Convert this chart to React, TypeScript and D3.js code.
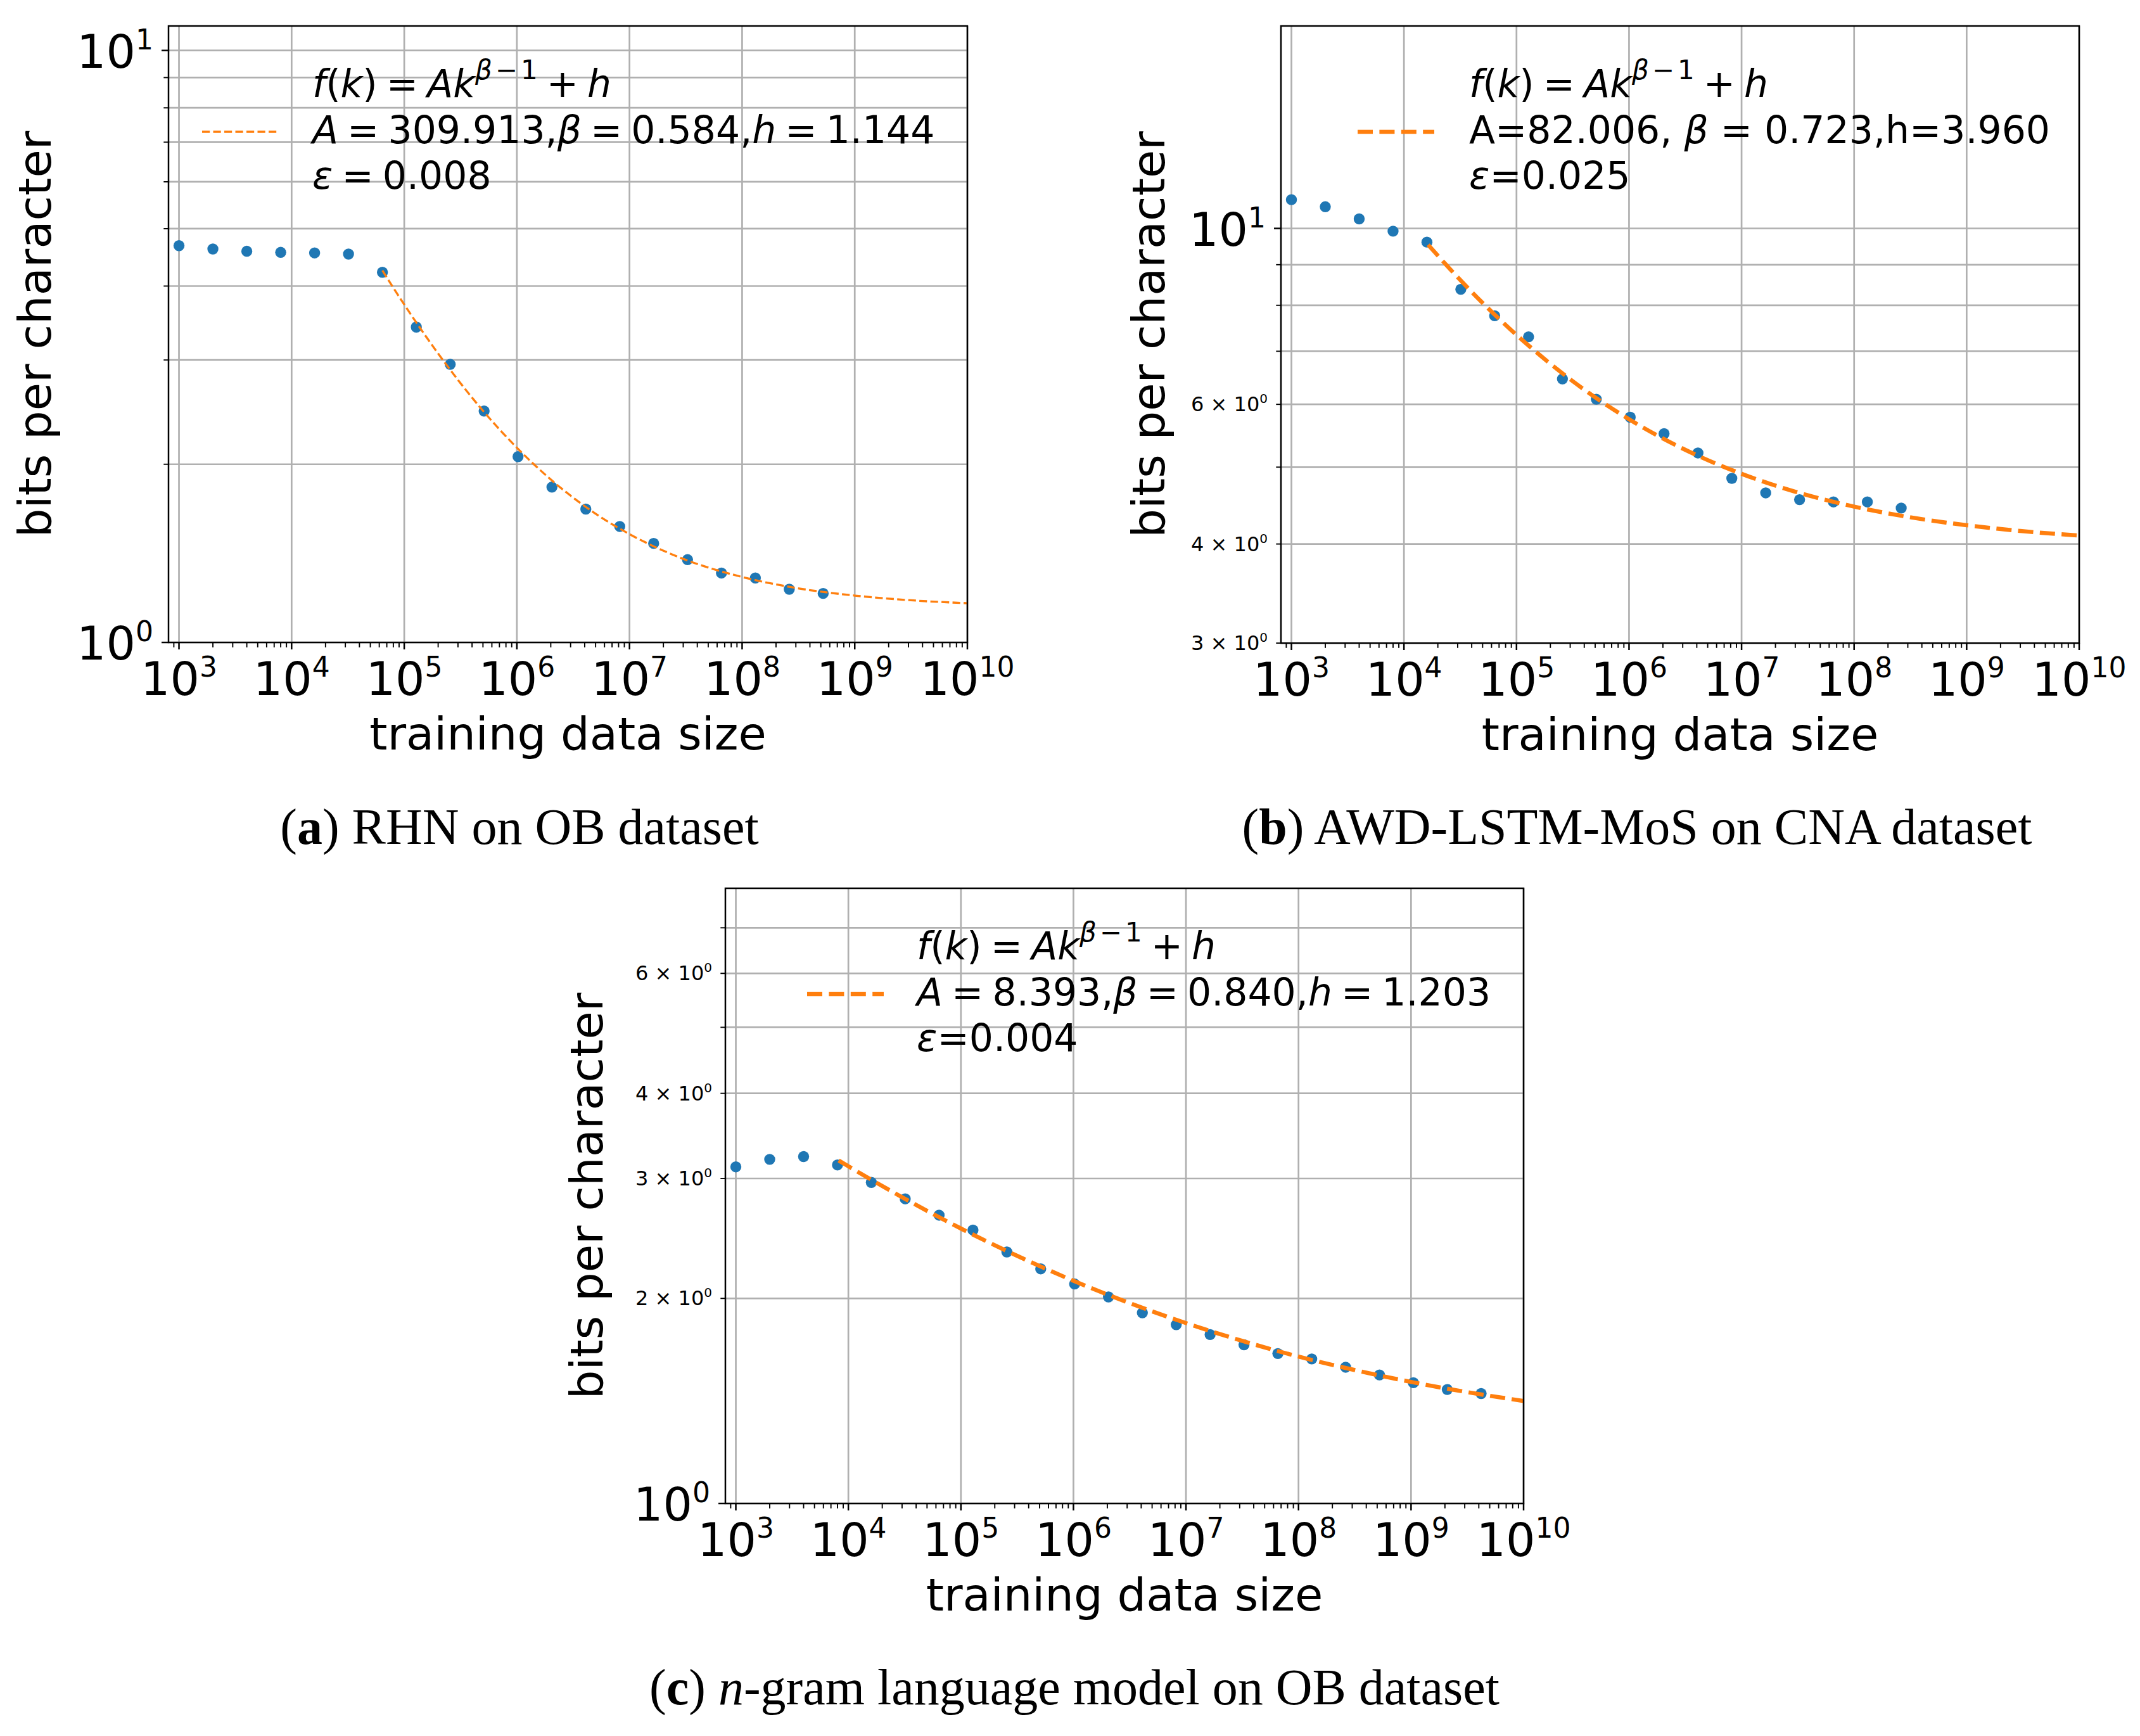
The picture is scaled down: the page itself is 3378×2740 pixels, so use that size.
import React from 'react';
import * as d3 from 'd3';

const W = 3378;
const H = 2740;

// ---------- data ----------
const sizesA = [1e3, 2e3, 4e3, 8e3, 16e3, 32e3, 64e3, 128e3, 256e3, 512e3, 1.024e6, 2.048e6, 4.096e6, 8.192e6, 1.6384e7, 3.2768e7, 6.5536e7, 1.31072e8, 2.62144e8, 5.24288e8];
const bpcA = [4.68, 4.62, 4.58, 4.56, 4.55, 4.53, 4.22, 3.41, 2.95, 2.46, 2.06, 1.83, 1.68, 1.57, 1.47, 1.38, 1.31, 1.285, 1.23, 1.21];
const fitSizesA = [6.4e4, 1e5, 1.5e5, 2e5, 3e5, 5e5, 1e6, 2e6, 3e6, 5e6, 1e7, 3e7, 1e8, 3e8, 1e9, 3e9, 1e10];
const fitBpcA = [4.249, 3.722, 3.322, 3.076, 2.776, 2.463, 2.133, 1.885, 1.77, 1.65, 1.524, 1.384, 1.29, 1.236, 1.2, 1.179, 1.165];

const sizesB = [1e3, 2e3, 4e3, 8e3, 16e3, 32e3, 64e3, 128e3, 256e3, 512e3, 1.024e6, 2.048e6, 4.096e6, 8.192e6, 1.6384e7, 3.2768e7, 6.5536e7, 1.31072e8, 2.62144e8];
const bpcB = [10.87, 10.65, 10.28, 9.92, 9.61, 8.38, 7.76, 7.3, 6.46, 6.09, 5.78, 5.51, 5.21, 4.84, 4.64, 4.55, 4.52, 4.52, 4.44];
const fitSizesB = [16384, 3e4, 5e4, 1e5, 3e5, 1e6, 3e6, 1e7, 3e7, 1e8, 3e8, 1e9, 3e9, 1e10];
const fitBpcB = [9.537, 8.678, 8.055, 7.34, 6.453, 5.746, 5.277, 4.904, 4.656, 4.459, 4.328, 4.224, 4.154, 4.099];

const sizesC = [1e3, 2e3, 4e3, 8e3, 16e3, 32e3, 64e3, 128e3, 256e3, 512e3, 1.024e6, 2.048e6, 4.096e6, 8.192e6, 1.6384e7, 3.2768e7, 6.5536e7, 1.31072e8, 2.62144e8, 5.24288e8, 1.048576e9, 2.097152e9, 4.194304e9];
const bpcC = [3.12, 3.2, 3.23, 3.14, 2.96, 2.8, 2.65, 2.52, 2.34, 2.21, 2.1, 2.01, 1.905, 1.83, 1.77, 1.71, 1.66, 1.63, 1.585, 1.544, 1.504, 1.47, 1.45];
const fitSizesC = [8192, 1e4, 3e4, 1e5, 3e5, 1e6, 3e6, 1e7, 3e7, 1e8, 3e8, 1e9, 3e9, 1e10];
const fitBpcC = [3.188, 3.126, 2.816, 2.533, 2.319, 2.123, 1.975, 1.84, 1.737, 1.643, 1.573, 1.508, 1.459, 1.414];

const xExponents = [3, 4, 5, 6, 7, 8, 9, 10];

const yGridA = [1, 2, 3, 4, 5, 6, 7, 8, 9, 10];
const yMajorA = [1, 10];
const yMinorLabelsA: number[] = [];
const yGridB = [3, 4, 5, 6, 7, 8, 9, 10];
const yMajorB = [10];
const yMinorLabelsB = [3, 4, 6];
const yGridC = [1, 2, 3, 4, 5, 6, 7];
const yMajorC = [1];
const yMinorLabelsC = [2, 3, 4, 6];

const paramsA = ['309.913', '0.584', '1.144', '0.008'];
const paramsB = ['82.006', '0.723', '3.960', '0.025'];
const paramsC = ['8.393', '0.840', '1.203', '0.004'];

const captionA = ['a', ' RHN on OB dataset'];
const captionB = ['b', ' AWD-LSTM-MoS on CNA dataset'];

// ---------- style ----------
const BLUE = '#1f77b4';
const ORANGE = '#ff7f0e';
const GRID = '#b0b0b0';
const SANS = '"DejaVu Sans", sans-serif';
const SERIF = '"Liberation Serif", "Times New Roman", serif';
const XMIN = Math.pow(10, 2.907);

type PanelCfg = {
  left: number; right: number; top: number; bottom: number;
  yDomain: [number, number];
  yGrid: number[]; yMajor: number[]; yMinorLabels: number[];
  sizes: number[]; bpc: number[]; fitSizes: number[]; fitBpc: number[];
  lw: number; dash: string;
  ylabelX: number; xlabelY: number;
  textX: number; handle: [number, number];
  params: string[]; plainStyle: boolean; spacedEps: boolean;
};

function Legend({ cfg }: { cfg: PanelCfg }) {
  const fs = 60;
  const y1 = cfg.top + 112;
  const y2 = cfg.top + 185;
  const y3 = cfg.top + 257;
  const it = { fontStyle: 'italic' as const };
  const [A, beta, h, eps] = cfg.params;
  return (
    <g fontFamily={SANS} fontSize={fs} fill="#000">
      <line x1={cfg.handle[0]} x2={cfg.handle[1]} y1={cfg.top + 167} y2={cfg.top + 167}
        stroke={ORANGE} strokeWidth={cfg.lw} strokeDasharray={cfg.dash} />
      <text x={cfg.textX} y={y1} wordSpacing={-5}>
        <tspan {...it}>f</tspan>(<tspan {...it}>k</tspan>){' = '}<tspan {...it}>Ak</tspan>
        <tspan dy={-28} fontSize={42} {...it}>β</tspan><tspan fontSize={42} dx={5}>−</tspan>
        <tspan fontSize={42} dx={5}>1</tspan>
        <tspan dy={28}>{' + '}</tspan><tspan {...it}>h</tspan>
      </text>
      {cfg.plainStyle ? (
        <text x={cfg.textX} y={y2}>
          {'A=' + A + ', '}<tspan {...it}>β</tspan>{' = ' + beta + ',h=' + h}
        </text>
      ) : (
        <text x={cfg.textX} y={y2} wordSpacing={-5}>
          <tspan {...it}>A</tspan>{' = ' + A + ','}<tspan {...it}>β</tspan>{' = ' + beta + ','}
          <tspan {...it}>h</tspan>{' = ' + h}
        </text>
      )}
      <text x={cfg.textX} y={y3} wordSpacing={-5}>
        <tspan {...it}>ε</tspan>{cfg.spacedEps ? ' = ' + eps : '=' + eps}
      </text>
    </g>
  );
}

function Panel({ cfg }: { cfg: PanelCfg }) {
  const x = d3.scaleLog().domain([XMIN, 1e10]).range([cfg.left, cfg.right]);
  const y = d3.scaleLog().domain(cfg.yDomain).range([cfg.bottom, cfg.top]);
  const xMinor = x.ticks().filter((t) => Math.abs(Math.log10(t) - Math.round(Math.log10(t))) > 1e-9);
  const yMinor = cfg.yGrid.filter((v) => cfg.yMajor.indexOf(v) < 0);
  const line = d3.line<number>()
    .x((_, i) => x(cfg.fitSizes[i]))
    .y((d) => y(d))
    .curve(d3.curveMonotoneX);
  const path = line(cfg.fitBpc) || '';
  const cx = (cfg.left + cfg.right) / 2;
  const cy = (cfg.top + cfg.bottom) / 2;
  return (
    <g>
      {xExponents.map((e) => (
        <line key={'gx' + e} x1={x(Math.pow(10, e))} x2={x(Math.pow(10, e))} y1={cfg.top} y2={cfg.bottom}
          stroke={GRID} strokeWidth={2.7} />
      ))}
      {cfg.yGrid.map((v) => (
        <line key={'gy' + v} x1={cfg.left} x2={cfg.right} y1={y(v)} y2={y(v)} stroke={GRID} strokeWidth={2.7} />
      ))}
      {cfg.sizes.map((s, i) => (
        <circle key={'p' + i} cx={x(s)} cy={y(cfg.bpc[i])} r={8.7} fill={BLUE} />
      ))}
      <path d={path} fill="none" stroke={ORANGE} strokeWidth={cfg.lw} strokeDasharray={cfg.dash} />
      <rect x={cfg.left} y={cfg.top} width={cfg.right - cfg.left} height={cfg.bottom - cfg.top}
        fill="none" stroke="#000" strokeWidth={2.5} />
      {xExponents.map((e) => (
        <line key={'tx' + e} x1={x(Math.pow(10, e))} x2={x(Math.pow(10, e))} y1={cfg.bottom} y2={cfg.bottom + 11}
          stroke="#000" strokeWidth={2.5} />
      ))}
      {xMinor.map((t, i) => (
        <line key={'mx' + i} x1={x(t)} x2={x(t)} y1={cfg.bottom} y2={cfg.bottom + 7.7} stroke="#000" strokeWidth={1.9} />
      ))}
      {xExponents.map((e) => (
        <text key={'lx' + e} x={x(Math.pow(10, e))} y={cfg.bottom + 83} textAnchor="middle"
          fontFamily={SANS} fontSize={73}>
          10<tspan dy={-29} fontSize={44}>{e}</tspan>
        </text>
      ))}
      {cfg.yMajor.map((v) => (
        <g key={'ty' + v}>
          <line x1={cfg.left - 11} x2={cfg.left} y1={y(v)} y2={y(v)} stroke="#000" strokeWidth={2.5} />
          <text x={cfg.left - 24} y={y(v) + 27} textAnchor="end" fontFamily={SANS} fontSize={73}>
            10<tspan dy={-29} fontSize={44}>{Math.round(Math.log10(v))}</tspan>
          </text>
        </g>
      ))}
      {yMinor.map((v) => (
        <line key={'my' + v} x1={cfg.left - 7.7} x2={cfg.left} y1={y(v)} y2={y(v)} stroke="#000" strokeWidth={1.9} />
      ))}
      {cfg.yMinorLabels.map((v) => (
        <text key={'ly' + v} x={cfg.left - 21} y={y(v) + 11} textAnchor="end" fontFamily={SANS} fontSize={32}>
          {v + ' × 10'}<tspan dy={-13} fontSize={20}>0</tspan>
        </text>
      ))}
      <text x={cx} y={cfg.xlabelY} textAnchor="middle" fontFamily={SANS} fontSize={72}>training data size</text>
      <text transform={`translate(${cfg.ylabelX},${cy}) rotate(-90)`} textAnchor="middle" fontFamily={SANS}
        fontSize={72}>bits per character</text>
      <Legend cfg={cfg} />
    </g>
  );
}

const panelA: PanelCfg = {
  left: 266, right: 1527, top: 41, bottom: 1014, yDomain: [1, 11],
  yGrid: yGridA, yMajor: yMajorA, yMinorLabels: yMinorLabelsA,
  sizes: sizesA, bpc: bpcA, fitSizes: fitSizesA, fitBpc: fitBpcA,
  lw: 3.3, dash: '12.2 5.3', ylabelX: 80, xlabelY: 1183,
  textX: 493, handle: [319, 441], params: paramsA, plainStyle: false, spacedEps: true,
};
const panelB: PanelCfg = {
  left: 2022, right: 3282, top: 41, bottom: 1015, yDomain: [3, 18],
  yGrid: yGridB, yMajor: yMajorB, yMinorLabels: yMinorLabelsB,
  sizes: sizesB, bpc: bpcB, fitSizes: fitSizesB, fitBpc: fitBpcB,
  lw: 6.5, dash: '24 10.4', ylabelX: 1838, xlabelY: 1184,
  textX: 2319, handle: [2143, 2264], params: paramsB, plainStyle: true, spacedEps: false,
};
const panelC: PanelCfg = {
  left: 1145, right: 2405, top: 1402, bottom: 2373, yDomain: [1, 8],
  yGrid: yGridC, yMajor: yMajorC, yMinorLabels: yMinorLabelsC,
  sizes: sizesC, bpc: bpcC, fitSizes: fitSizesC, fitBpc: fitBpcC,
  lw: 6.5, dash: '24 10.4', ylabelX: 951, xlabelY: 2542,
  textX: 1447, handle: [1274, 1395], params: paramsC, plainStyle: false, spacedEps: false,
};

export default function App() {
  return (
    <svg width={W} height={H} viewBox={`0 0 ${W} ${H}`}
      style={{ position: 'absolute', left: 0, top: 0, background: '#fff' }}>
      <rect x={0} y={0} width={W} height={H} fill="#fff" />
      <Panel cfg={panelA} />
      <Panel cfg={panelB} />
      <Panel cfg={panelC} />
      <text x={820} y={1332} textAnchor="middle" fontFamily={SERIF} fontSize={80}>
        (<tspan fontWeight="bold">{captionA[0]}</tspan>){captionA[1]}
      </text>
      <text x={2584} y={1332} textAnchor="middle" fontFamily={SERIF} fontSize={80}>
        (<tspan fontWeight="bold">{captionB[0]}</tspan>){captionB[1]}
      </text>
      <text x={1696} y={2690} textAnchor="middle" fontFamily={SERIF} fontSize={80}>
        (<tspan fontWeight="bold">c</tspan>){' '}<tspan fontStyle="italic">n</tspan>-gram language model on OB dataset
      </text>
    </svg>
  );
}
